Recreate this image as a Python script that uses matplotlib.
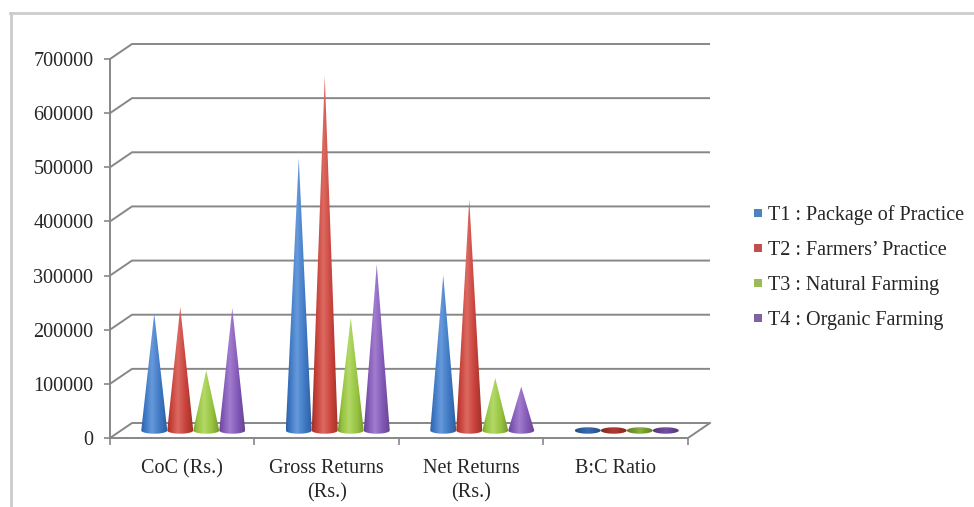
import numpy as np
import matplotlib
matplotlib.use('Agg')
import matplotlib.pyplot as plt
from matplotlib.colors import LinearSegmentedColormap, to_rgb
from matplotlib.patches import PathPatch
from matplotlib.path import Path
from matplotlib.lines import Line2D

# --- data ---
categories = ['CoC (Rs.)', 'Gross Returns\n(Rs.)', 'Net Returns\n(Rs.)', 'B:C Ratio']
series = ['T1 : Package of Practice', 'T2 : Farmers\u2019 Practice',
          'T3 : Natural Farming', 'T4 : Organic Farming']
t1_vals = [216000, 503000, 287000, 2.33]
t2_vals = [228000, 655000, 427000, 2.87]
t3_vals = [111000, 208000, 97000, 1.87]
t4_vals = [226000, 307000, 81000, 1.36]
values = [t1_vals, t2_vals, t3_vals, t4_vals]
y_ticks = list(range(0, 700001, 100000))

cone_colors = ['#4180d2', '#d4443b', '#a0d042', '#8a5cc2']
legend_colors = ['#4F81BD', '#C0504D', '#9BBB59', '#8064A2']
grid_col = '#878787'
text_col = '#262626'

plt.rcParams['font.family'] = ['Liberation Serif', 'DejaVu Serif']
FS = 14.5

W, H = 974, 507
fig = plt.figure(figsize=(W / 100, H / 100), dpi=100)
ax_w_px, ax_h_px = 578, 379
ax = fig.add_axes([110 / W, (H - 438) / H, ax_w_px / W, ax_h_px / H])
ax.set_xlim(0, 4)
ax.set_ylim(0, 700000)

# pixel -> data helpers for the fake depth
px_x = 4 / ax_w_px
px_y = 700000 / ax_h_px
dx, dy = 22 * px_x, 15 * px_y

# back wall gridlines + left diagonals
for v in y_ticks:
    ax.plot([0, dx, 4 + dx], [v, v + dy, v + dy], color=grid_col, lw=1.4,
            clip_on=False, zorder=1, solid_capstyle='butt')
# right edge of the floor
ax.plot([4, 4 + dx], [0, dy], color=grid_col, lw=1.4, clip_on=False, zorder=1)


def shade_cmap(c):
    base = np.array(to_rgb(c))
    dark = base * 0.74
    mid = base * 0.93
    light = np.clip(base + (1 - base) * 0.2, 0, 1)
    return LinearSegmentedColormap.from_list(
        'cone', [(0, dark), (0.15, mid), (0.42, light), (0.75, mid), (1, dark)])


cw = 26 * px_x
r = cw / 2
eh = 3.2 * px_y
by = dy / 2
grad = np.linspace(0, 1, 128)[None, :]

for i, vals in enumerate(values):
    cmap = shade_cmap(cone_colors[i])
    for j, v in enumerate(vals):
        cx = j + 0.5 + (i - 1.5) * cw + dx / 2
        if v < eh * 1.2:
            # flat cone: only the base disc shows
            th = np.linspace(0, 2 * np.pi, 60)
            pts = np.column_stack([cx + r * np.cos(th), by + eh * np.sin(th)])
            top = by + eh
            base = np.array(to_rgb(cone_colors[i]))
            cm = LinearSegmentedColormap.from_list(
                'disc', [base * 0.6, base * 0.85, base * 0.6])
        else:
            th = np.linspace(np.pi, 2 * np.pi, 40)
            pts = np.column_stack([cx + r * np.cos(th), by + eh * np.sin(th)])
            pts = np.vstack([pts, [cx, by + v], pts[:1]])
            top = by + v
            cm = cmap
        patch = PathPatch(Path(pts), facecolor='none', edgecolor='none',
                          transform=ax.transData)
        ax.add_patch(patch)
        im = ax.imshow(grad, cmap=cm, extent=[cx - r, cx + r, by - eh, top],
                       aspect='auto', origin='lower', zorder=3,
                       interpolation='bilinear')
        im.set_clip_path(patch)

ax.set_xlim(0, 4)
ax.set_ylim(0, 700000)
ax.set_aspect('auto')

# axes styling
for s in ['top', 'right']:
    ax.spines[s].set_visible(False)
for s in ['left', 'bottom']:
    ax.spines[s].set_color(grid_col)
    ax.spines[s].set_linewidth(1.4)
ax.set_facecolor('none')

ax.set_yticks(y_ticks)
ax.set_yticklabels([str(v) for v in y_ticks])
ax.tick_params(axis='y', length=4, width=1.2, color=grid_col, pad=8,
               labelsize=FS, labelcolor=text_col)
ax.set_xticks([0, 1, 2, 3, 4])
ax.set_xticklabels([])
ax.set_xticks([0.5, 1.5, 2.5, 3.5], minor=True)
ax.set_xticklabels(categories, minor=True)
ax.tick_params(axis='x', which='major', length=5, width=1.2, color=grid_col)
ax.tick_params(axis='x', which='minor', length=0, pad=15,
               labelsize=FS, labelcolor=text_col)
for lab in ax.get_xticklabels(minor=True):
    lab.set_linespacing(1.35)

# legend
handles = [Line2D([], [], ls='', marker='s', markersize=5.5, color=c,
                  markeredgewidth=0) for c in legend_colors]
leg = ax.legend(handles, series, loc='upper left',
                bbox_to_anchor=(741 / W, 1 - 195 / H), bbox_transform=fig.transFigure,
                frameon=False, handlelength=0.7, handletextpad=0.15,
                labelspacing=0.79, borderpad=0, fontsize=FS)
for t in leg.get_texts():
    t.set_color(text_col)

# chart-area border
fig.add_artist(Line2D([10 / W, 1], [1 - 13 / H, 1 - 13 / H],
                      transform=fig.transFigure, color='#cccccc', lw=2))
fig.add_artist(Line2D([11 / W, 11 / W], [0, 1 - 13 / H],
                      transform=fig.transFigure, color='#cccccc', lw=2))

fig.savefig('out.png', dpi=100)
